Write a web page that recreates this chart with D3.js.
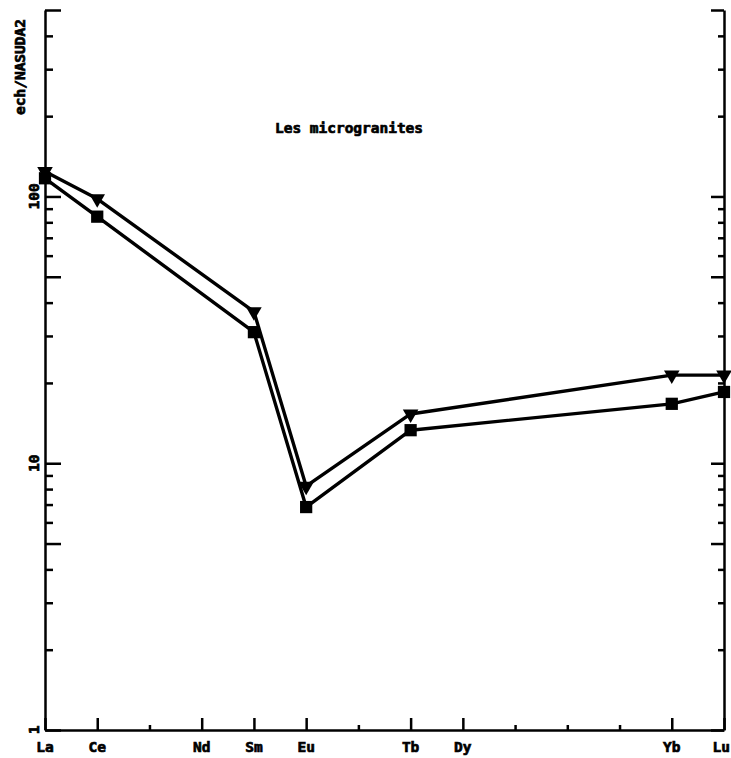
<!DOCTYPE html>
<html>
<head>
<meta charset="utf-8">
<script src="https://cdn.jsdelivr.net/npm/d3@7"></script>
<style>
  html, body { margin: 0; padding: 0; background: #fff; }
  svg { display: block; }
  text { font-family: "DejaVu Sans Mono", "Liberation Mono", monospace; font-weight: bold; fill: #000; stroke: #000; stroke-width: 0.7; }
</style>
</head>
<body>
<script>
// ---- data ----
const elements = ["La","Ce","Pr","Nd","Sm","Eu","Gd","Tb","Dy","Ho","Er","Tm","Yb","Lu"];
const labeledElements = ["La","Ce","Nd","Sm","Eu","Tb","Dy","Yb","Lu"];
const seriesElements = ["La","Ce","Sm","Eu","Tb","Yb","Lu"];
const triangleValues = [124, 98, 37, 8.2, 15.3, 21.4, 21.4];
const squareValues   = [117, 84, 31, 6.85, 13.3, 16.7, 18.5];
const yTickValues = [1,2,3,4,5,6,7,8,9,10,20,30,40,50,60,70,80,90,100,200,300,400,500];
const yLongTicks = [1,5,10,50,100,500];
const yTickLabels = [1, 10, 100];
const yAxisTitle = "ech/NASUDA2";
const chartTitle = "Les microgranites";

// ---- layout ----
const W = 731, H = 758;
const svg = d3.select("body").append("svg").attr("width", W).attr("height", H);

const x = d3.scalePoint().domain(elements).range([45, 724]);
const y = d3.scaleLog().domain([1, 500]).range([730, 10]);

// left axis (ticks pointing inward)
const left = svg.append("g").attr("transform", "translate(45,0)")
  .call(d3.axisRight(y).tickValues(yTickValues).tickSize(8).tickSizeOuter(0).tickFormat(""));
left.selectAll(".tick line").attr("x2", d => yLongTicks.includes(d) ? 16 : 8);

// right axis
const right = svg.append("g").attr("transform", "translate(724,0)")
  .call(d3.axisLeft(y).tickValues(yTickValues).tickSize(6).tickSizeOuter(0).tickFormat(""));
right.selectAll(".tick line").attr("x2", d => yLongTicks.includes(d) ? -13 : -6);

// bottom axis
const bottom = svg.append("g").attr("transform", "translate(0,730)")
  .call(d3.axisTop(x).tickSize(5).tickSizeOuter(0).tickFormat(""));
bottom.selectAll(".tick line").attr("y2", d => labeledElements.includes(d) ? -12 : -5);

svg.selectAll(".domain, .tick line").attr("stroke", "#000").attr("stroke-width", 2.5);

// x labels
const lastEl = elements[elements.length - 1];
svg.append("g").selectAll("text").data(labeledElements).join("text")
  .attr("x", d => d === lastEl ? W - 1 : x(d)).attr("y", 752)
  .attr("text-anchor", d => d === lastEl ? "end" : "middle").attr("font-size", 14.5)
  .text(d => d);

// y labels (rotated)
svg.append("g").selectAll("text").data(yTickLabels).join("text")
  .attr("transform", d => `translate(39,${y(d)}) rotate(-90)`)
  .attr("text-anchor", "middle").attr("font-size", 14.5)
  .text(d => d);

// y title
svg.append("text")
  .attr("transform", "translate(25,67) rotate(-90)")
  .attr("text-anchor", "middle").attr("font-size", 14)
  .attr("textLength", 96).attr("lengthAdjust", "spacingAndGlyphs")
  .text(yAxisTitle);

// chart title
svg.append("text").attr("x", 349).attr("y", 133)
  .attr("text-anchor", "middle").attr("font-size", 14.5)
  .attr("textLength", 148).attr("lengthAdjust", "spacingAndGlyphs")
  .text(chartTitle);

// series
const line = d3.line().x(d => x(d.el)).y(d => y(d.v));
const tri = seriesElements.map((el, i) => ({el, v: triangleValues[i]}));
const sq  = seriesElements.map((el, i) => ({el, v: squareValues[i]}));

[tri, sq].forEach(s => {
  svg.append("path").datum(s).attr("d", line)
    .attr("fill", "none").attr("stroke", "#000").attr("stroke-width", 3.4).attr("stroke-linejoin", "round");
});

const triSym = d3.symbol().type(d3.symbolTriangle).size(105);
svg.append("g").selectAll("path").data(tri).join("path")
  .attr("transform", d => `translate(${x(d.el)},${y(d.v)}) rotate(180)`)
  .attr("d", triSym).attr("fill", "#000");

const sqSym = d3.symbol().type(d3.symbolSquare).size(150);
svg.append("g").selectAll("path").data(sq).join("path")
  .attr("transform", d => `translate(${x(d.el)},${y(d.v)})`)
  .attr("d", sqSym).attr("fill", "#000");
</script>
</body>
</html>
